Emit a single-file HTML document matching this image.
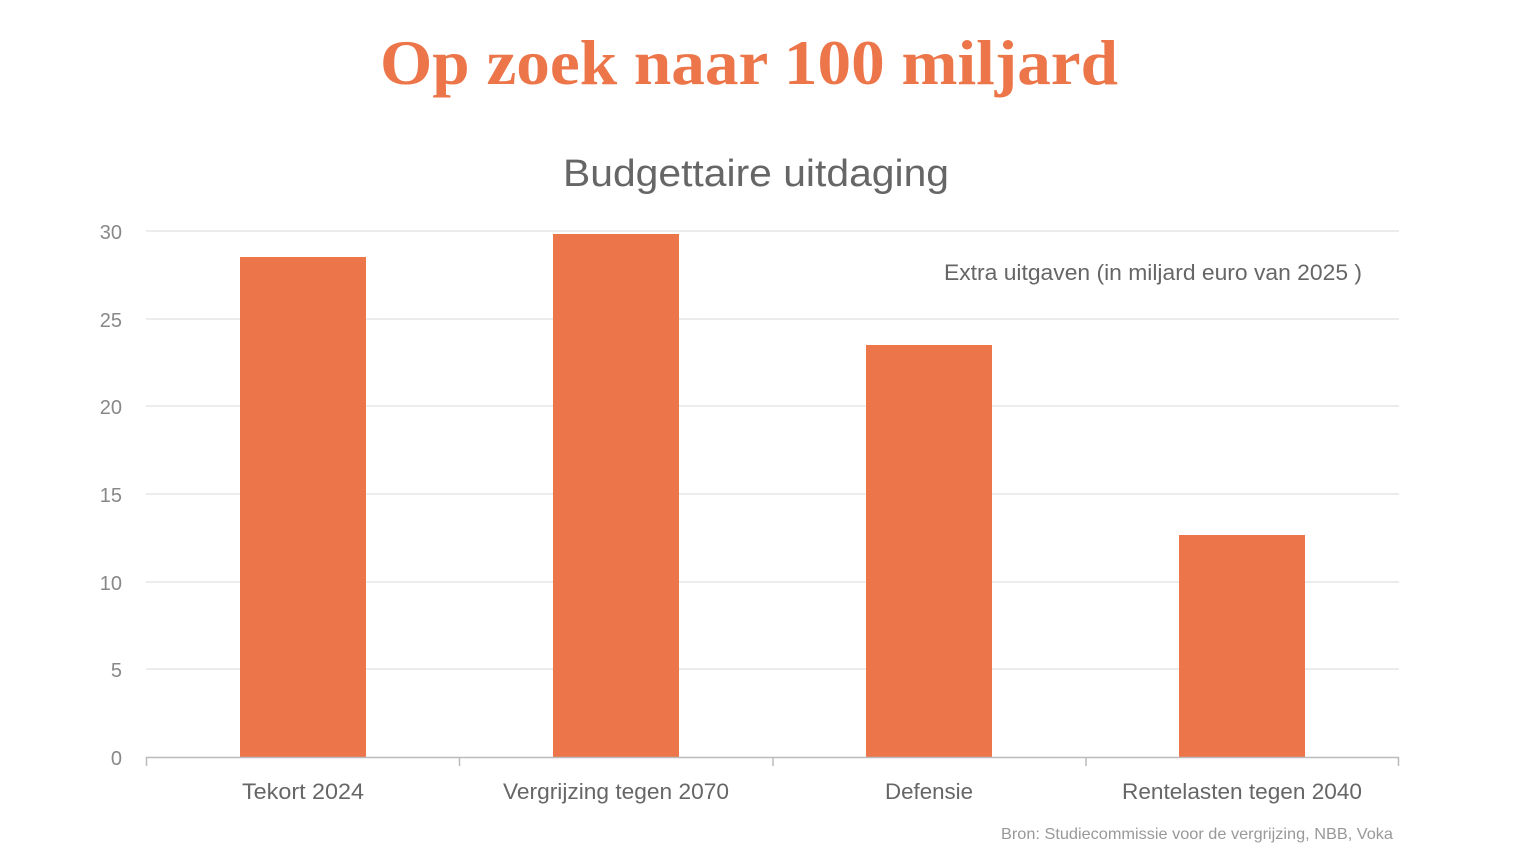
<!DOCTYPE html>
<html><head><meta charset="utf-8"><style>html,body{margin:0;padding:0;background:#fff;}svg{display:block}</style></head>
<body>
<svg width="1536" height="867" viewBox="0 0 1536 867" xmlns="http://www.w3.org/2000/svg">
<rect width="1536" height="867" fill="#fff"/>
<text x="380" y="84" font-family="Liberation Serif, serif" font-weight="bold" font-size="64" fill="#EC7549" textLength="738" lengthAdjust="spacingAndGlyphs">Op zoek naar 100 miljard</text>
<text x="756" y="186" text-anchor="middle" font-family="Liberation Sans, sans-serif" font-size="38" fill="#666" textLength="386" lengthAdjust="spacingAndGlyphs">Budgettaire uitdaging</text>
<g stroke="#e6e6e6" stroke-width="1.5">
<line x1="146" x2="1399" y1="231" y2="231"/><line x1="146" x2="1399" y1="319" y2="319"/>
<line x1="146" x2="1399" y1="406" y2="406"/><line x1="146" x2="1399" y1="494" y2="494"/>
<line x1="146" x2="1399" y1="582" y2="582"/><line x1="146" x2="1399" y1="669" y2="669"/>
</g>
<g font-family="Liberation Sans, sans-serif" font-size="20" fill="#888" text-anchor="end">
<text x="122" y="239">30</text><text x="122" y="327">25</text><text x="122" y="414">20</text>
<text x="122" y="502">15</text><text x="122" y="590">10</text><text x="122" y="677">5</text><text x="122" y="765">0</text>
</g>
<g fill="#EC7549">
<rect x="240" y="257" width="126" height="500"/>
<rect x="553" y="234" width="126" height="523"/>
<rect x="866" y="345" width="126" height="412"/>
<rect x="1179" y="535" width="126" height="222"/>
</g>
<g stroke="#bbb" stroke-width="1.5">
<line x1="146" x2="1399" y1="757.5" y2="757.5"/>
<line x1="146.5" x2="146.5" y1="757" y2="766"/><line x1="459.5" x2="459.5" y1="757" y2="766"/>
<line x1="773" x2="773" y1="757" y2="766"/><line x1="1086" x2="1086" y1="757" y2="766"/>
<line x1="1398.5" x2="1398.5" y1="757" y2="766"/>
</g>
<g font-family="Liberation Sans, sans-serif" font-size="22" fill="#666" text-anchor="middle">
<text x="303" y="799" textLength="122" lengthAdjust="spacingAndGlyphs">Tekort 2024</text>
<text x="616" y="799" textLength="226" lengthAdjust="spacingAndGlyphs">Vergrijzing tegen 2070</text>
<text x="929" y="799" textLength="88" lengthAdjust="spacingAndGlyphs">Defensie</text>
<text x="1242" y="799" textLength="240" lengthAdjust="spacingAndGlyphs">Rentelasten tegen 2040</text>
</g>
<text x="944" y="280" font-family="Liberation Sans, sans-serif" font-size="22" fill="#666" textLength="418" lengthAdjust="spacingAndGlyphs">Extra uitgaven (in miljard euro van 2025 )</text>
<text x="1001" y="839" font-family="Liberation Sans, sans-serif" font-size="16" fill="#999" textLength="392" lengthAdjust="spacingAndGlyphs">Bron: Studiecommissie voor de vergrijzing, NBB, Voka</text>
</svg>
</body></html>
